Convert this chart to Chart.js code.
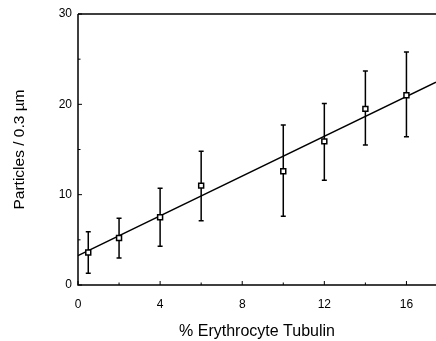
<!DOCTYPE html>
<html>
<head>
<meta charset="utf-8">
<script src="https://cdn.jsdelivr.net/npm/chart.js@4/dist/chart.umd.min.js"></script>
<style>
  html, body { margin: 0; padding: 0; background: #fff; }
  #wrap { width: 436px; height: 341px; }
</style>
</head>
<body>
<div id="wrap"><canvas id="chart" width="436" height="341"></canvas></div>
<script>
// values
const tubulin   = [0.5, 2, 4, 6, 10, 12, 14, 16];
const particles = [3.6, 5.2, 7.5, 11.0, 12.6, 15.9, 19.5, 21.0];
const errHigh   = [5.9, 7.4, 10.7, 14.8, 17.7, 20.1, 23.7, 25.8];
const errLow    = [1.3, 3.0, 4.3, 7.1, 7.6, 11.6, 15.5, 16.4];
const fitX      = [0, 17.44];
const fitY      = [3.25, 22.45];
const xTicks    = [0, 4, 8, 12, 16];
const yTicks    = [0, 10, 20, 30];

const FONT = '"Liberation Sans", Arial, Helvetica, sans-serif';

// error bars, inward tick marks and top frame line
const figureBits = {
  id: 'figureBits',
  beforeDatasetsDraw(chart) {
    const { ctx, scales: { x, y } } = chart;
    ctx.save();
    ctx.strokeStyle = '#000';
    ctx.lineWidth = 1.5;
    tubulin.forEach((t, i) => {
      const px = x.getPixelForValue(t);
      const top = y.getPixelForValue(errHigh[i]);
      const bot = y.getPixelForValue(errLow[i]);
      ctx.beginPath();
      ctx.moveTo(px, top); ctx.lineTo(px, bot);
      ctx.moveTo(px - 2.5, top); ctx.lineTo(px + 2.5, top);
      ctx.moveTo(px - 2.5, bot); ctx.lineTo(px + 2.5, bot);
      ctx.stroke();
    });
    ctx.restore();
  },
  afterDraw(chart) {
    const { ctx, chartArea: a, scales: { x, y } } = chart;
    ctx.save();
    ctx.strokeStyle = '#000';
    ctx.lineWidth = 1.5;
    ctx.beginPath();
    ctx.moveTo(a.left, a.top); ctx.lineTo(a.right, a.top);
    ctx.moveTo(a.left, a.top); ctx.lineTo(a.left, a.bottom);
    ctx.lineTo(a.right, a.bottom);
    ctx.stroke();
    ctx.lineWidth = 1;
    ctx.beginPath();
    xTicks.forEach(v => {
      const px = x.getPixelForValue(v);
      ctx.moveTo(px, a.bottom); ctx.lineTo(px, a.bottom - 4);
      const m = x.getPixelForValue(v + 2);
      if (m < a.right) { ctx.moveTo(m, a.bottom); ctx.lineTo(m, a.bottom - 2.5); }
    });
    yTicks.forEach((v, i) => {
      const py = y.getPixelForValue(v);
      ctx.moveTo(a.left, py); ctx.lineTo(a.left + 4, py);
      if (i < yTicks.length - 1) {
        const m = y.getPixelForValue(v + 5);
        ctx.moveTo(a.left, m); ctx.lineTo(a.left + 2.5, m);
      }
    });
    ctx.stroke();
    ctx.restore();
  }
};

new Chart(document.getElementById('chart'), {
  type: 'scatter',
  data: {
    datasets: [
      {
        data: fitX.map((v, i) => ({ x: v, y: fitY[i] })),
        showLine: true,
        borderColor: '#000',
        borderWidth: 1.5,
        pointRadius: 0,
        order: 2
      },
      {
        data: tubulin.map((v, i) => ({ x: v, y: particles[i] })),
        pointStyle: 'rect',
        pointRadius: 3.5,
        pointBorderWidth: 1.5,
        pointBorderColor: '#000',
        pointBackgroundColor: '#fff',
        order: 1
      }
    ]
  },
  plugins: [figureBits],
  options: {
    responsive: false,
    animation: false,
    clip: false,
    layout: { autoPadding: false, padding: { top: 14, right: 0, left: 0, bottom: 0 } },
    plugins: { legend: { display: false }, tooltip: { enabled: false } },
    scales: {
      x: {
        type: 'linear',
        min: 0, max: 17.44,
        afterFit: s => { s.height = 56; s.paddingLeft = 0; s.paddingRight = 0; },
        border: { display: false },
        grid: { display: false, drawTicks: false },
        ticks: { stepSize: 4, includeBounds: false, padding: 12, color: '#000', font: { family: FONT, size: 12 } },
        title: { display: true, text: '% Erythrocyte Tubulin', color: '#000', font: { family: FONT, size: 16 }, padding: { top: -2, bottom: 0 } }
      },
      y: {
        min: 0, max: 30,
        afterFit: s => { s.width = 78; s.paddingTop = 0; s.paddingBottom = 0; },
        border: { display: false },
        grid: { display: false, drawTicks: false },
        ticks: { stepSize: 10, padding: 6, color: '#000', font: { family: FONT, size: 12 } },
        title: { display: true, text: 'Particles / 0.3 µm', color: '#000', font: { family: FONT, size: 15.5 }, padding: { top: 10, bottom: 0 } }
      }
    }
  }
});
</script>
</body>
</html>
